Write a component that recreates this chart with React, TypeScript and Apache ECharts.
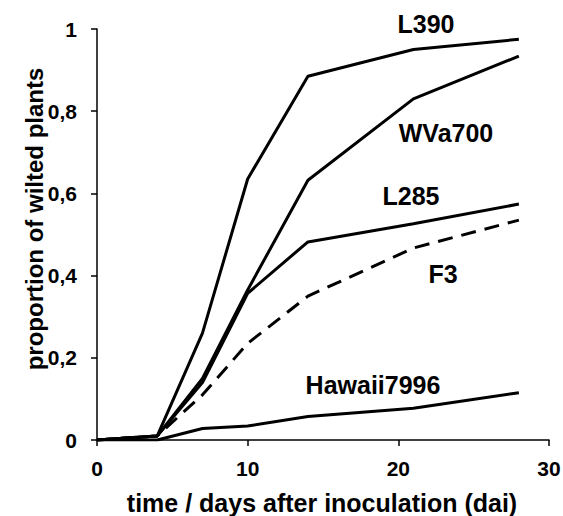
import React, { useEffect, useRef } from "react";
import * as echarts from "echarts";

const days = [0, 4, 7, 10, 14, 21, 28];
const L390 = [0, 0.01, 0.26, 0.635, 0.885, 0.95, 0.975];
const WVa700 = [0, 0.01, 0.15, 0.365, 0.632, 0.83, 0.934];
const L285 = [0, 0.01, 0.14, 0.357, 0.482, 0.526, 0.574];
const F3 = [0, 0.01, 0.11, 0.235, 0.35, 0.467, 0.535];
const Hawaii7996 = [0, 0, 0.028, 0.034, 0.057, 0.077, 0.115];

const labels = [
  { text: "L390", x: 426, y: 24 },
  { text: "WVa700", x: 446, y: 133 },
  { text: "L285", x: 411, y: 196 },
  { text: "F3", x: 443, y: 274 },
  { text: "Hawaii7996", x: 373, y: 385 },
];

const xTitle = "time / days after inoculation (dai)";
const yTitle = "proportion of wilted plants";

const FONT = "'Liberation Sans', Arial, sans-serif";

export default function App() {
  const ref = useRef<HTMLDivElement>(null);
  useEffect(() => {
    document.body.style.margin = "0";
    const chart = echarts.init(ref.current!, null, { renderer: "svg" });
    const mk = (name: string, vals: number[], dashed = false) => ({
      name,
      type: "line",
      data: days.map((d, i) => [d, vals[i]]),
      symbol: "none",
      lineStyle: { color: "#000", width: 3, type: dashed ? [15, 9] : "solid" },
      z: 3,
    });
    const textStyle = { fontFamily: FONT, fontWeight: "bold", fill: "#000" };
    chart.setOption({
      animation: false,
      backgroundColor: "#fff",
      grid: { left: 97, top: 29, right: 14, bottom: 76, containLabel: false, outerBoundsMode: "none" },
      xAxis: {
        type: "value",
        min: 0,
        max: 30,
        interval: 10,
        axisLine: { lineStyle: { color: "#000", width: 1.5 } },
        axisTick: { show: true, length: 6, lineStyle: { color: "#000", width: 1.5 } },
        axisLabel: { fontFamily: FONT, fontWeight: "bold", fontSize: 21, color: "#000", margin: 18 },
        splitLine: { show: false },
      },
      yAxis: {
        type: "value",
        min: 0,
        max: 1,
        interval: 0.2,
        axisLine: { show: true, lineStyle: { color: "#000", width: 1.5 } },
        axisTick: { show: true, length: 6, lineStyle: { color: "#000", width: 1.5 } },
        axisLabel: {
          fontFamily: FONT,
          fontWeight: "bold",
          fontSize: 21,
          color: "#000",
          margin: 20,
          formatter: (v: number) => String(Math.round(v * 10) / 10).replace(".", ","),
        },
        splitLine: { show: false },
      },
      series: [
        mk("L390", L390),
        mk("WVa700", WVa700),
        mk("L285", L285),
        mk("F3", F3, true),
        mk("Hawaii7996", Hawaii7996),
      ],
      graphic: [
        ...labels.map((l) => ({
          type: "text",
          x: l.x,
          y: l.y,
          style: { ...textStyle, text: l.text, fontSize: 25, align: "center", verticalAlign: "middle" },
        })),
        {
          type: "text",
          x: 322,
          y: 503,
          style: { ...textStyle, text: xTitle, fontSize: 25, lineHeight: 24, align: "center", verticalAlign: "middle" },
        },
        {
          type: "text",
          x: 34,
          y: 219,
          rotation: Math.PI / 2,
          style: { ...textStyle, text: yTitle, fontSize: 24, align: "center", verticalAlign: "middle" },
        },
      ],
    });
    return () => chart.dispose();
  }, []);
  return <div ref={ref} style={{ width: 563, height: 516 }} />;
}
